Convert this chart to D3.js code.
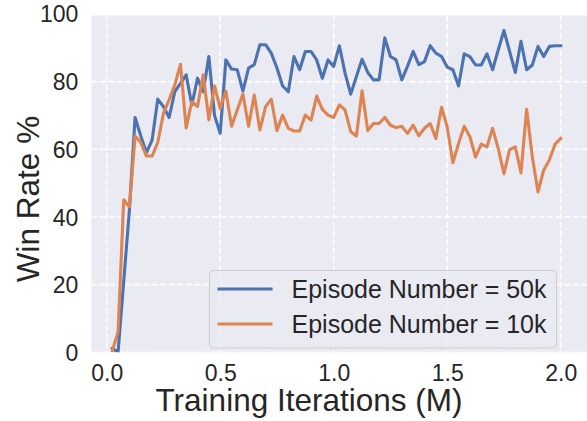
<!DOCTYPE html>
<html>
<head>
<meta charset="utf-8">
<script src="https://cdn.jsdelivr.net/npm/d3@7"></script>
<style>
  html, body { margin: 0; padding: 0; background: #fff; }
  svg { display: block; font-family: "Liberation Sans", Arial, sans-serif; }
</style>
</head>
<body>
<svg width="587" height="421"></svg>
<script>
// training iterations (M)
const iterations = [
  0.025, 0.05, 0.075, 0.1, 0.125, 0.15, 0.175, 0.2, 0.225, 0.25,
  0.275, 0.3, 0.325, 0.35, 0.375, 0.4, 0.425, 0.45, 0.475, 0.5,
  0.525, 0.55, 0.575, 0.6, 0.625, 0.65, 0.675, 0.7, 0.725, 0.75,
  0.775, 0.8, 0.825, 0.85, 0.875, 0.9, 0.925, 0.95, 0.975, 1.0,
  1.025, 1.05, 1.075, 1.1, 1.125, 1.15, 1.175, 1.2, 1.225, 1.25,
  1.275, 1.3, 1.325, 1.35, 1.375, 1.4, 1.425, 1.45, 1.475, 1.5,
  1.525, 1.55, 1.575, 1.6, 1.625, 1.65, 1.675, 1.7, 1.725, 1.75,
  1.775, 1.8, 1.825, 1.85, 1.875, 1.9, 1.925, 1.95, 1.975, 2.0
];
const winRate50k = [
  1.2, 0, 21, 42, 69.4, 64, 59, 62.7, 74.8, 72.6,
  69.4, 77, 79.5, 82, 73, 81, 77, 87.4, 70, 64.7,
  86.4, 83.7, 83.5, 77.2, 84, 85, 90.9, 90.9, 88.4, 84,
  78.7, 77, 87.4, 83.5, 88.9, 88.9, 86.4, 81, 86.4, 84.5,
  90.6, 82.5, 76.3, 81.5, 86.6, 82.7, 80.5, 80.5, 92.9, 87.4,
  86.4, 80.5, 84.5, 88.9, 85, 85.9, 90.6, 88.4, 87.4, 84.3,
  83.5, 78.7, 88.2, 87.4, 84.9, 84.9, 88.2, 83.5, 89.4, 95.1,
  88.9, 82.7, 91.9, 83.5, 84.9, 90.4, 87.4, 90.4, 90.6, 90.6
];
const winRate10k = [
  0.5, 6, 45.1, 42.9, 63.9, 62, 58, 58, 62, 70.6,
  74.6, 79, 85.1, 66.3, 74.1, 72.6, 82, 68.7, 78.7, 72.1,
  77.2, 66.8, 71.6, 76.3, 66.8, 76, 65.7, 72.6, 74.8, 65.5,
  70.1, 66.2, 65.4, 65.4, 70.1, 68.6, 75.7, 71.8, 70.1, 69.4,
  73.1, 71.6, 65.2, 63.9, 77.3, 65.5, 67.6, 67.6, 69.4, 67.1,
  66.4, 66.8, 64.7, 67.1, 64, 66.2, 67.6, 63.2, 72.4, 66.6,
  56, 61.7, 66.8, 63.7, 57.7, 61.5, 60.7, 66.2, 60.2, 52.8,
  59.9, 60.7, 53, 71.8, 57.7, 47.4, 53.8, 56.8, 61.5, 63.2
];
const seriesNames = ['Episode Number = 50k', 'Episode Number = 10k'];
const xTicks = [0.0, 0.5, 1.0, 1.5, 2.0];
const yTicks = [0, 20, 40, 60, 80, 100];

const width = 587;
const height = 421;
const plotLeft = 91.3;
const plotRight = 587;
const plotTop = 15.5;
const plotBottom = 352.3;
const colors = ['#4C72B0', '#DD8452'];
const textColor = '#262626';

const svg = d3.select('svg');

const x = d3.scaleLinear().domain([0, 2]).range([106.7, 560.7]);
const y = d3.scaleLinear().domain([0, 100]).range([352.3, 13.9]);

// plot background
svg.append('rect')
    .attr('x', plotLeft)
    .attr('y', plotTop)
    .attr('width', plotRight - plotLeft)
    .attr('height', plotBottom - plotTop)
    .attr('fill', '#EAEAF2');

svg.append('clipPath')
    .attr('id', 'plot-clip')
    .append('rect')
    .attr('x', plotLeft)
    .attr('y', plotTop)
    .attr('width', plotRight - plotLeft)
    .attr('height', plotBottom - plotTop);

// grid
const grid = svg.append('g').attr('clip-path', 'url(#plot-clip)');
grid.selectAll('line.vgrid')
    .data(xTicks)
    .enter()
    .append('line')
    .attr('class', 'vgrid')
    .attr('x1', (d) => x(d))
    .attr('x2', (d) => x(d))
    .attr('y1', plotTop)
    .attr('y2', plotBottom)
    .attr('stroke', '#fff')
    .attr('stroke-width', 1.6)
    .attr('stroke-dasharray', '6,2.6');
grid.selectAll('line.hgrid')
    .data(yTicks)
    .enter()
    .append('line')
    .attr('class', 'hgrid')
    .attr('x1', plotLeft)
    .attr('x2', plotRight)
    .attr('y1', (d) => y(d))
    .attr('y2', (d) => y(d))
    .attr('stroke', '#fff')
    .attr('stroke-width', 1.6)
    .attr('stroke-dasharray', '6,2.6');

// axes (labels only, seaborn darkgrid has no spines or tick marks)
const xAxis = d3.axisBottom(x)
    .tickValues(xTicks)
    .tickFormat(d3.format('.1f'))
    .tickSize(0)
    .tickPadding(12);
const yAxis = d3.axisLeft(y)
    .tickValues(yTicks)
    .tickFormat(d3.format('d'))
    .tickSize(0)
    .tickPadding(13);

const gx = svg.append('g')
    .attr('transform', 'translate(0,' + plotBottom + ')')
    .call(xAxis);
const gy = svg.append('g')
    .attr('transform', 'translate(' + plotLeft + ',0)')
    .call(yAxis);
[gx, gy].forEach((g) => {
    g.select('.domain').remove();
    g.selectAll('text')
        .attr('fill', textColor)
        .style('font-size', '23px')
        .style('font-family', '"Liberation Sans", Arial, sans-serif');
});
gx.selectAll('text').attr('dy', '0.71em');
gy.selectAll('text').attr('dy', '0.35em');

svg.append('text')
    .attr('x', (153 + 465) / 2)
    .attr('y', 411)
    .attr('text-anchor', 'middle')
    .attr('fill', textColor)
    .style('font-size', '31.5px')
    .text('Training Iterations (M)');

svg.append('text')
    .attr('transform', 'translate(39,199) rotate(-90)')
    .attr('text-anchor', 'middle')
    .attr('fill', textColor)
    .style('font-size', '31.5px')
    .text('Win Rate %');

// lines
const line = d3.line()
    .x((d, i) => x(iterations[i]))
    .y((d) => y(d));

const lines = svg.append('g').attr('clip-path', 'url(#plot-clip)');
[winRate50k, winRate10k].forEach((values, k) => {
    lines.append('path')
        .datum(values)
        .attr('d', line)
        .attr('fill', 'none')
        .attr('stroke', colors[k])
        .attr('stroke-width', 3.1)
        .attr('stroke-linejoin', 'round')
        .attr('stroke-linecap', 'square');
});

// legend
const legend = svg.append('g');
legend.append('rect')
    .attr('x', 209.5)
    .attr('y', 270.5)
    .attr('width', 347)
    .attr('height', 77.5)
    .attr('rx', 4)
    .attr('fill', '#EAEAF2')
    .attr('fill-opacity', 0.8)
    .attr('stroke', '#cccccc')
    .attr('stroke-width', 1);

const legendRows = [289, 324];
seriesNames.forEach((name, k) => {
    legend.append('line')
        .attr('x1', 219)
        .attr('x2', 271)
        .attr('y1', legendRows[k])
        .attr('y2', legendRows[k])
        .attr('stroke', colors[k])
        .attr('stroke-width', 3.1)
        .attr('stroke-linecap', 'square');
    legend.append('text')
        .attr('x', 291.5)
        .attr('y', legendRows[k])
        .attr('dy', '0.35em')
        .attr('fill', textColor)
        .style('font-size', '25px')
        .text(name);
});
</script>
</body>
</html>
